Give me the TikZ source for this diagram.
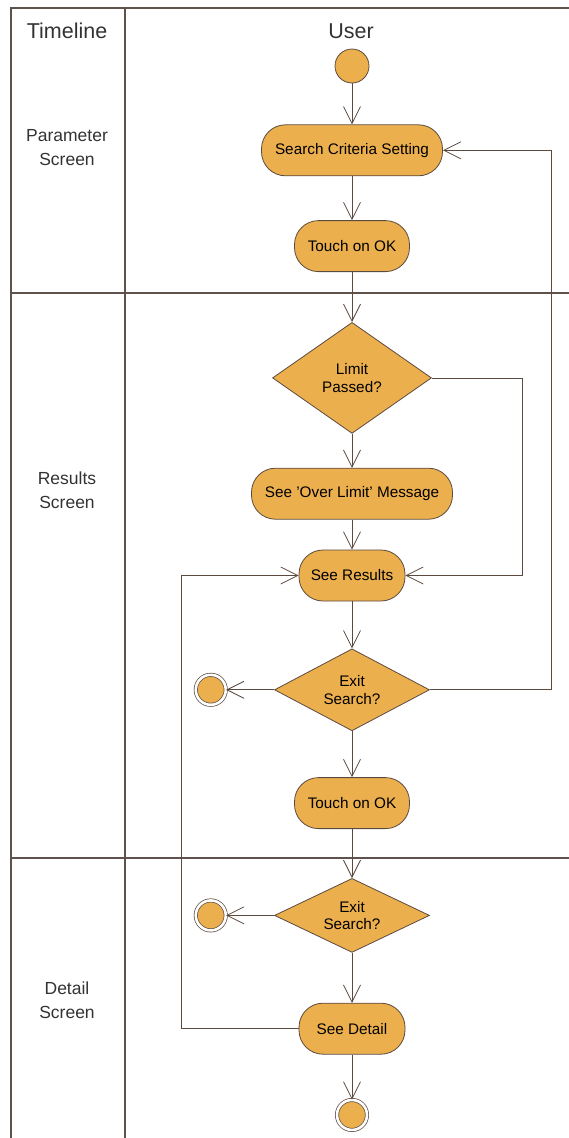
\documentclass[tikz,border=0pt]{standalone}
\usepackage{fontspec}
\setmainfont{Liberation Sans}
\usepackage{xcolor}
\usepackage{tikz}
\usetikzlibrary{shapes.geometric,arrows.meta,positioning}
\definecolor{actfill}{RGB}{236,175,78}
\definecolor{actline}{RGB}{92,74,63}
\definecolor{laneline}{RGB}{95,82,76}

\begin{document}
\begin{tikzpicture}[x=1pt,y=-1pt,
  font=\fontsize{15.3}{17.6}\selectfont,
  act/.style={draw=actline,line width=0.8pt,fill=actfill,rounded corners=24pt,minimum width=#1,minimum height=51pt,inner sep=0pt,align=center},
  decision/.style={draw=actline,line width=0.8pt,fill=actfill,diamond,aspect=1.9,minimum width=155pt,minimum height=#1,inner sep=0pt,align=center},
  startnode/.style={draw=actline,line width=0.8pt,fill=actfill,circle,minimum size=34pt,inner sep=0pt},
  endnode/.style={draw=actline,line width=0.7pt,double=white,double distance=2.6pt,fill=actfill,circle,minimum size=30pt,inner sep=0pt},
  flow/.style={draw=actline,line width=0.8pt,-{Straight Barb[length=17pt,width=17pt,line width=0.8pt]}},
  lane/.style={draw=laneline,line width=1.2pt},
  lanelabel/.style={font=\fontsize{17.5}{24}\selectfont,align=center,text=black!80}
]
  \useasboundingbox (0,0) rectangle (569,1138);
  % swimlane frame
  \draw[lane] (10,8) -- (569,8);
  \draw[lane] (11,8) -- (11,1138);
  \draw[lane] (125,8) -- (125,1138);
  \draw[lane] (10,293) -- (569,293);
  \draw[lane] (10,858) -- (569,858);
  \node[lanelabel,font=\fontsize{21.5}{25}\selectfont] (timeline) at (67,31) {Timeline};
  \node[lanelabel,font=\fontsize{21.5}{25}\selectfont] (user) at (351,31) {User};
  \node[lanelabel] (param) at (67,148) {Parameter\\Screen};
  \node[lanelabel] (resscr) at (67,490) {Results\\Screen};
  \node[lanelabel] (detscr) at (67,1000) {Detail\\Screen};

  % activities
  \node[startnode] (start) at (352,66) {};
  \node[act=181pt, below=41pt of start] (crit) {Search Criteria Setting};
  \node[act=115pt, below=44pt of crit] (ok1) {Touch on OK};
  \node[decision=111pt, minimum width=159pt, below=50pt of ok1] (limit) {Limit\\Passed?};
  \node[act=201pt, below=34pt of limit] (msg) {See 'Over Limit' Message};
  \node[act=106pt, below=30pt of msg] (results) {See Results};
  \node[decision=82pt, below=47pt of results] (exit1) {Exit\\Search?};
  \node[endnode, left=48pt of exit1] (fin1) {};
  \node[act=115pt, below=46pt of exit1] (ok2) {Touch on OK};
  \node[decision=74pt, below=49pt of ok2] (exit2) {Exit\\Search?};
  \node[endnode, left=48pt of exit2] (fin2) {};
  \node[act=106pt, below=50pt of exit2] (detail) {See Detail};
  \node[endnode, below=45pt of detail] (finish) {};

  % flows
  \draw[flow] (start) -- (crit);
  \draw[flow] (crit) -- (ok1);
  \draw[flow] (ok1) -- (limit);
  \draw[flow] (limit) -- (msg);
  \draw[flow] (msg) -- (results);
  \draw[flow] (results) -- (exit1);
  \draw[flow] (exit1) -- (ok2);
  \draw[flow] (ok2) -- (exit2);
  \draw[flow] (exit2) -- (detail);
  \draw[flow] (detail) -- (finish);
  \draw[flow] (exit1) -- (fin1);
  \draw[flow] (exit2) -- (fin2);
  \draw[flow] (limit.east) -- ++(90,0) |- (results.east);
  \draw[flow] (exit1.east) -- ++(121,0) |- (crit.east);
  \draw[flow] (detail.west) -- ++(-117,0) |- (results.west);
\end{tikzpicture}
\end{document}
